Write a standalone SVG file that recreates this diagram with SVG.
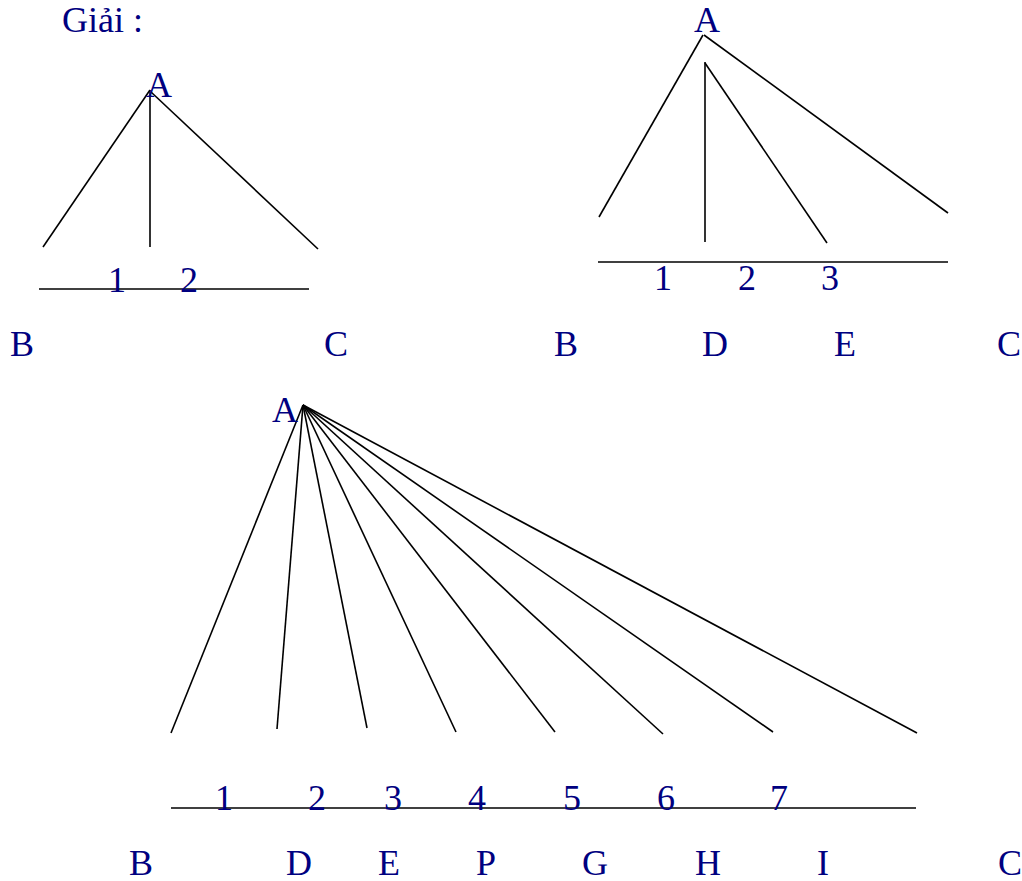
<svg xmlns="http://www.w3.org/2000/svg" width="1022" height="881" viewBox="0 0 1022 881">
<style>
.t{font-family:"Liberation Serif","Times New Roman",serif;font-size:36px;fill:#000080}
.l{stroke:#000;stroke-width:1.6;fill:none;stroke-linecap:butt}
</style>
<rect width="1022" height="881" fill="#fff"/>
<text id="title" class="t" x="62" y="32">Giải :</text>
<g id="connectors">
<line class="l" x1="150" y1="90" x2="43" y2="247"/>
<line class="l" x1="150" y1="90" x2="150" y2="247"/>
<line class="l" x1="151" y1="92" x2="318" y2="249"/>
<line class="l" x1="39" y1="289" x2="309" y2="289"/>
<line class="l" x1="703" y1="35" x2="599" y2="217"/>
<line class="l" x1="704" y1="35" x2="948" y2="213"/>
<line class="l" x1="705" y1="62" x2="705" y2="242"/>
<line class="l" x1="705" y1="63" x2="827" y2="243"/>
<line class="l" x1="598" y1="262" x2="948" y2="262"/>
<line class="l" x1="303" y1="405" x2="171" y2="733"/>
<line class="l" x1="303" y1="405" x2="277" y2="729"/>
<line class="l" x1="303" y1="405" x2="367" y2="728"/>
<line class="l" x1="303" y1="405" x2="456" y2="732"/>
<line class="l" x1="303" y1="405" x2="555" y2="732"/>
<line class="l" x1="303" y1="405" x2="663" y2="734"/>
<line class="l" x1="303" y1="405" x2="773" y2="732"/>
<line class="l" x1="303" y1="405" x2="917" y2="733"/>
<line class="l" x1="171" y1="808" x2="916" y2="808"/>
</g>
<g id="fig1">
<text class="t" x="146" y="97">A</text>
<text class="t" x="108" y="292">1</text>
<text class="t" x="180" y="292">2</text>
<text class="t" x="10" y="356">B</text>
<text class="t" x="324" y="356">C</text>
</g>
<g id="fig2">
<text class="t" x="694" y="32">A</text>
<text class="t" x="654" y="290">1</text>
<text class="t" x="738" y="290">2</text>
<text class="t" x="821" y="290">3</text>
<text class="t" x="554" y="356">B</text>
<text class="t" x="702" y="356">D</text>
<text class="t" x="834" y="356">E</text>
<text class="t" x="997" y="356">C</text>
</g>
<g id="fig3">
<text class="t" x="272" y="422">A</text>
<text class="t" x="215" y="810">1</text>
<text class="t" x="308" y="810">2</text>
<text class="t" x="384" y="810">3</text>
<text class="t" x="468" y="810">4</text>
<text class="t" x="563" y="810">5</text>
<text class="t" x="657" y="810">6</text>
<text class="t" x="770" y="810">7</text>
<text class="t" x="129" y="875">B</text>
<text class="t" x="286" y="875">D</text>
<text class="t" x="378" y="875">E</text>
<text class="t" x="476" y="875">P</text>
<text class="t" x="582" y="875">G</text>
<text class="t" x="695" y="875">H</text>
<text class="t" x="817" y="875">I</text>
<text class="t" x="998" y="875">C</text>
</g>
</svg>
